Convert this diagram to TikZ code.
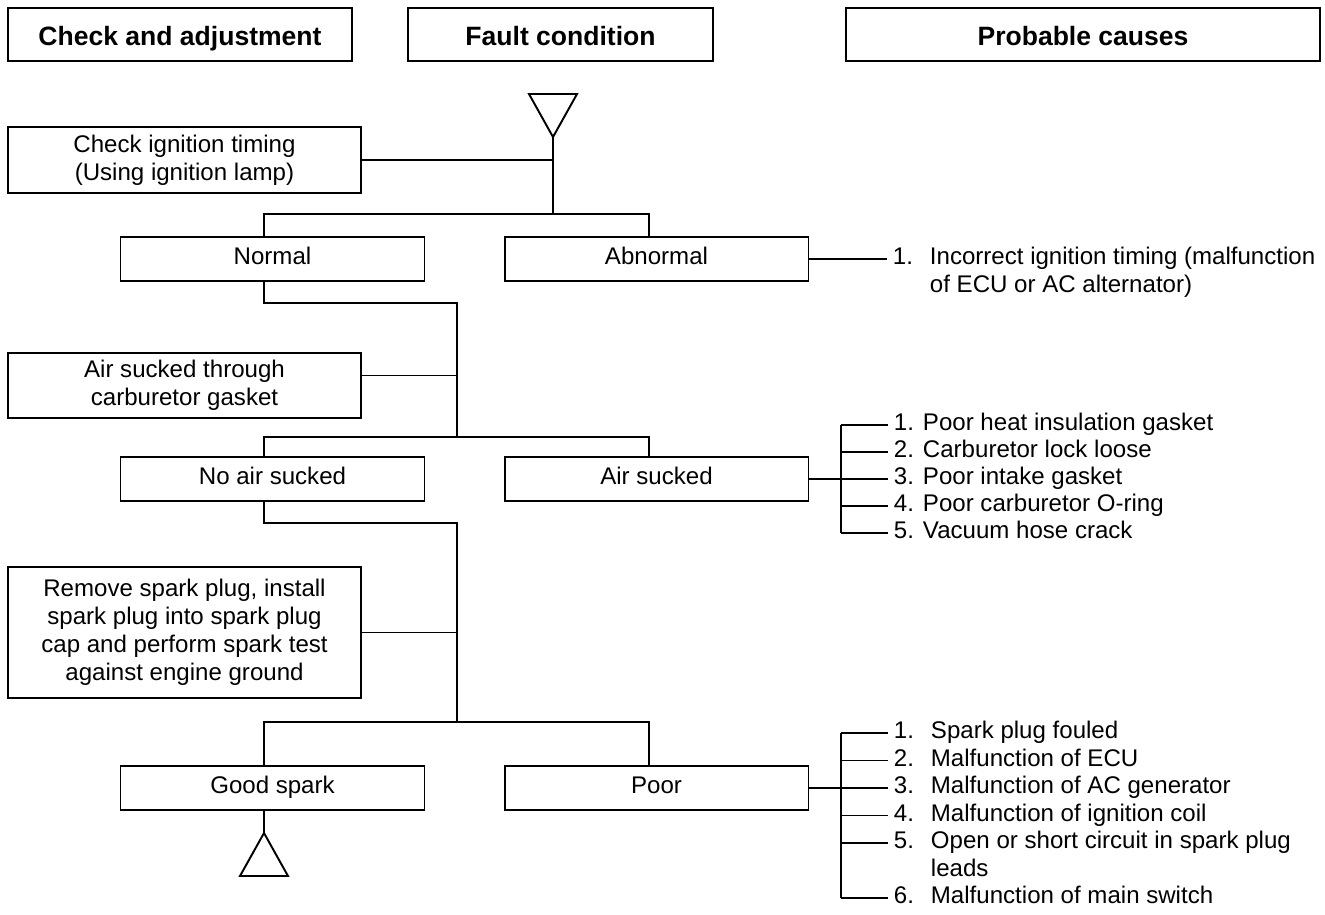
\documentclass[tikz,border=0pt]{standalone}
\usepackage{fontspec}
\setmainfont{Liberation Sans}
\usetikzlibrary{positioning, calc}

\newcommand{\itm}[1]{\makebox[0.74cm][l]{#1}}

\begin{document}
\begin{tikzpicture}[
    x=0.02cm, y=-0.02cm,
    line width=1.1pt,
    every node/.style={font=\fontsize{13.7pt}{15.9pt}\selectfont, align=center},
    hdr/.style={draw, minimum height=1.06cm, inner sep=0pt, text height=12pt, text depth=0pt,
                font=\fontsize{15.1pt}{18pt}\selectfont\bfseries},
    chk/.style={draw, minimum width=7.06cm, inner sep=0pt},
    res/.style={draw, minimum width=6.08cm, minimum height=0.88cm, inner sep=0pt,
                text height=8.7pt, text depth=3pt},
    cause/.style={anchor=west, align=left, inner xsep=0.1cm, inner ysep=0pt,
                  text height=6.4pt, text depth=0pt}
]
\useasboundingbox (0,0) rectangle (1325,914);

\node[hdr, minimum width=6.88cm] (h1) at (180,34.5) {Check and adjustment};
\node[hdr, minimum width=6.10cm] (h2) at (560.5,34.5) {Fault condition};
\node[hdr, minimum width=9.48cm] (h3) at (1083,34.5) {Probable causes};

\node[chk, minimum height=1.32cm] (chkA) at (184.5,160) {Check ignition timing\\(Using ignition lamp)};
\node[chk, minimum height=1.30cm] (chkB) at (184.5,385.5) {Air sucked through\\carburetor gasket};
\node[chk, minimum height=2.62cm] (chkC) at (184.5,632.5) {Remove spark plug, install\\spark plug into spark plug\\cap and perform spark test\\against engine ground};

\node[res] (nrm) at (272.5,259) {Normal};
\node[res] (abn) at (656.5,259) {Abnormal};
\node[res] (noair) at (272.5,479) {No air sucked};
\node[res] (air) at (656.5,479) {Air sucked};
\node[res] (good) at (272.5,788) {Good spark};
\node[res] (poor) at (656.5,788) {Poor};

\coordinate (tipA) at (553,137);
\coordinate (tipB) at (264,833);
\draw (tipA) -- ++(-24,-43) -- ++(48,0) -- cycle;
\draw (tipB) -- ++(-24,43) -- ++(48,0) -- cycle;

\coordinate (j1) at (553,214);
\coordinate (dL1) at (264,214);
\coordinate (dR1) at (649,214);
\draw (tipA) -- (j1);
\draw (chkA.east) -- (chkA.east -| j1);
\draw (nrm.north -| dL1) -- (dL1) -- (dR1) -- (abn.north -| dR1);

\coordinate (k1) at (457,303);
\coordinate (dL2) at (264,437);
\coordinate (dR2) at (649,437);
\draw (nrm.south -| dL1) |- (k1) -- (k1 |- dL2);
\draw ([yshift=0.2cm]chkB.east) -- ([yshift=0.2cm]chkB.east -| k1);
\draw (noair.north -| dL2) -- (dL2) -- (dR2) -- (air.north -| dR2);

\coordinate (k2) at (457,523);
\coordinate (dL3) at (264,722);
\coordinate (dR3) at (649,722);
\draw (noair.south -| dL2) |- (k2) -- (k2 |- dL3);
\draw (chkC.east) -- (chkC.east -| k2);
\draw (good.north -| dL3) -- (dL3) -- (dR3) -- (poor.north -| dR3);
\draw (good.south -| dL3) -- (tipB);

\coordinate (ab1) at (887,259);
\draw (abn.east) -- (ab1);
\node[cause] (ca1) at (ab1) {\itm{1.}Incorrect ignition timing (malfunction};
\node[cause] (ca2) at (887,287) {\itm{}of ECU or AC alternator)};

\foreach \i/\yy/\txt in {1/425/{1. Poor heat insulation gasket},
                          2/452/{2. Carburetor lock loose},
                          3/479/{3. Poor intake gasket},
                          4/506/{4. Poor carburetor O-ring},
                          5/533/{5. Vacuum hose crack}} {
  \coordinate (a\i) at (841,\yy);
  \coordinate (ae\i) at (888,\yy);
  \draw (a\i) -- (ae\i);
  \node[cause] (ct\i) at (ae\i) {\txt};
}
\draw (air.east) -- (air.east -| a1);
\draw (a1) -- (a5);

\foreach \i/\yy/\txt in {1/733/{\itm{1.}Spark plug fouled},
                          2/760.5/{\itm{2.}Malfunction of ECU},
                          3/788/{\itm{3.}Malfunction of AC generator},
                          4/815.5/{\itm{4.}Malfunction of ignition coil},
                          5/843/{\itm{5.}Open or short circuit in spark plug},
                          6/898/{\itm{6.}Malfunction of main switch}} {
  \coordinate (p\i) at (841,\yy);
  \coordinate (pe\i) at (888,\yy);
  \draw (p\i) -- (pe\i);
  \node[cause] (cp\i) at (pe\i) {\txt};
}
\node[cause] (cp5b) at (888,870.5) {\itm{}leads};
\draw (poor.east) -- (poor.east -| p1);
\draw (p1) -- (p6);
\end{tikzpicture}
\end{document}
